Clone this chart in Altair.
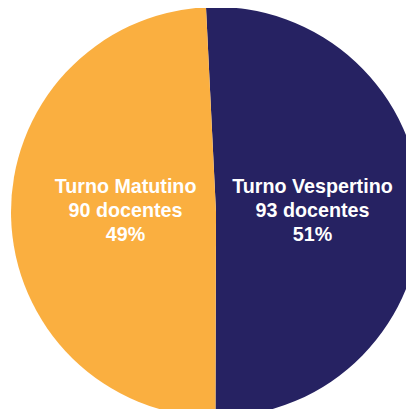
import math
import altair as alt
import pandas as pd

turnos = ["Turno Vespertino", "Turno Matutino"]
docentes = [93, 90]
porcentajes = ["51%", "49%"]
colores = ["#262262", "#FAAF40"]

df = pd.DataFrame({
    "turno": turnos,
    "docentes": docentes,
    "orden": list(range(len(turnos))),
    "etiqueta": [f"{t}\n{d} docentes\n{p}" for t, d, p in zip(turnos, docentes, porcentajes)],
})

total = sum(docentes)
start = -2.8 * math.pi / 180
theta_scale = alt.Scale(domain=[0, total], range=[start, start + 2 * math.pi])

base = alt.Chart(df).transform_stack(
    stack="docentes", groupby=[], as_=["d0", "d1"],
    sort=[alt.SortField("orden", order="ascending")],
).transform_calculate(mid="(datum.d0 + datum.d1) / 2")

arc = base.mark_arc(outerRadius=205, strokeWidth=0).encode(
    theta=alt.Theta("d0:Q", scale=theta_scale),
    theta2="d1:Q",
    x=alt.value(208),
    y=alt.value(204),
    color=alt.Color("turno:N", scale=alt.Scale(domain=turnos, range=colores), legend=None),
)

text_style = dict(
    radius=95, fontSize=19.7, fontWeight="bold", font="Liberation Sans",
    color="white", lineBreak="\n", lineHeight=24, align="center", baseline="middle",
)

def label(idx, dx, dy):
    return base.transform_filter(alt.datum.turno == turnos[idx]).mark_text(
        dx=dx, dy=dy, **text_style
    ).encode(
        theta=alt.Theta("mid:Q", scale=theta_scale),
        x=alt.value(208),
        y=alt.value(204),
        text="etiqueta:N",
    )

chart = (arc + label(0, 1.5, -22.7) + label(1, 4.5, -27.3)).properties(
    width=398, height=401, padding=0, autosize=alt.AutoSizeParams(type="none")
).configure_view(stroke=None)

chart.save("out.html", embed_options={"renderer": "svg", "actions": False})
